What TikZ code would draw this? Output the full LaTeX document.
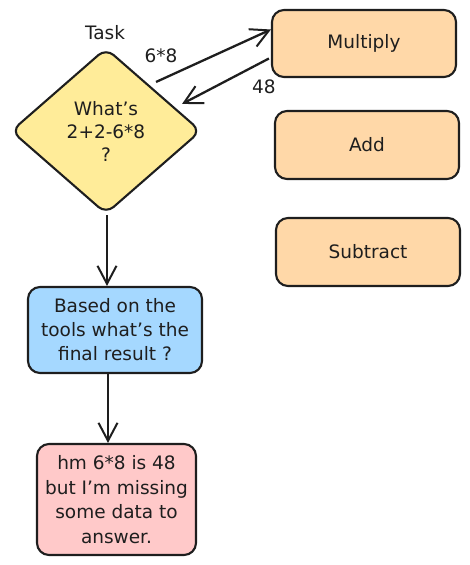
\documentclass[tikz,border=0pt]{standalone}
\usepackage{fontspec}
\setmainfont{DejaVu Sans}
\usetikzlibrary{shapes.geometric,arrows.meta,calc}
\definecolor{ink}{HTML}{1E1E1E}
\definecolor{yel}{HTML}{FFEC99}
\definecolor{ora}{HTML}{FFD8A8}
\definecolor{blu}{HTML}{A5D8FF}
\definecolor{pnk}{HTML}{FFC9C9}
\tikzset{
  box/.style={draw=ink, line width=2.1pt, rounded corners=12pt, inner sep=0pt, align=center, font=\fontsize{18.5}{24}\selectfont, text=ink},
  lbl/.style={inner sep=0pt, font=\fontsize{18.5}{20}\selectfont, text=ink},
  conn/.style={draw=ink, line width=2.3pt, -{Straight Barb[length=18pt,width=19pt,line width=2pt]}}
}
\begin{document}
\begin{tikzpicture}[x=1pt,y=-1pt]
\useasboundingbox (0,0) rectangle (470,565);
\node[box, diamond, fill=yel, minimum width=190pt, minimum height=166pt, rounded corners=10pt, font=\fontsize{18.5}{23}\selectfont] (d) at (106,131) {What's\\2+2-6*8\\?};
\node[box, fill=ora, minimum width=184pt, minimum height=67pt] (m) at (364,43.5) {Multiply};
\node[box, fill=ora, minimum width=184pt, minimum height=68pt] (a) at (367,145) {Add};
\node[box, fill=ora, minimum width=184pt, minimum height=68pt] (s) at (368,252) {Subtract};
\node[box, fill=blu, minimum width=174pt, minimum height=86pt] (b) at (115,330) {Based on the\\tools what's the\\final result ?};
\node[box, fill=pnk, minimum width=159pt, minimum height=111pt, font=\fontsize{18.5}{24.5}\selectfont] (p) at (116.5,499.5) {hm 6*8 is 48\\but I'm missing\\some data to\\answer.};
\node[lbl] (t) at (105,33) {Task};
\node[lbl] (l1) at (161,56) {6*8};
\node[lbl] (l2) at (264,87) {48};
\draw[conn] ($(d.north east)+(2,-7)$) -- ($(m.west)+(0,-14)$);
\draw[conn] ($(m.west)+(-2,15)$) -- ($(d.north east)+(28,15)$);
\draw[conn] ($(d.south)+(1,0)$) -- ($(d.south |- b.north)+(1,0)$);
\draw[conn] ($(d.south |- b.south)+(2,0)$) -- ($(d.south |- p.north)+(2,0)$);
\end{tikzpicture}
\end{document}
